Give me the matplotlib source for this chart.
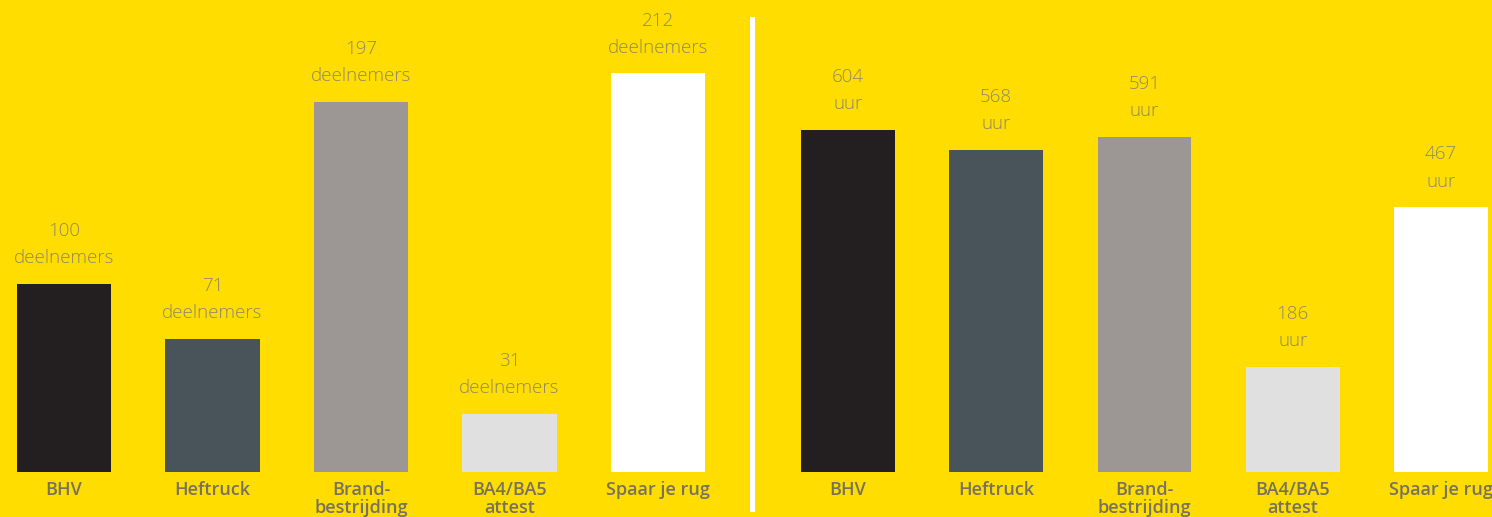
import matplotlib.pyplot as plt
from matplotlib.patches import Rectangle

categories = ["BHV", "Heftruck", "Brand-\nbestrijding", "BA4/BA5\nattest", "Spaar je rug"]
participants = [100, 71, 197, 31, 212]
hours = [604, 568, 591, 186, 467]
bar_colors = ["#231f20", "#48535a", "#9c9794", "#e0e0e0", "#ffffff"]

BG = "#ffdd00"
VALUE_COLOR = "#8f8866"
LABEL_COLOR = "#77725f"
FONT = ["Open Sans", "DejaVu Sans"]

W, H = 1492, 517
fig = plt.figure(figsize=(W / 100, H / 100), dpi=100)
fig.patch.set_facecolor(BG)

bottom = 1 - 472 / H
height = 472 / H


def panel(left_px, right_px, xlim, ylim_top, values, unit):
    ax = fig.add_axes([left_px / W, bottom, (right_px - left_px) / W, height])
    ax.set_facecolor("none")
    xs = range(len(values))
    ax.bar(xs, values, width=0.634, color=bar_colors)
    ax.set_xlim(*xlim)
    ax.set_ylim(0, ylim_top)
    ax.axis("off")
    for x, v, cat in zip(xs, values, categories):
        ax.annotate(str(v), (x, v), xytext=(0, 38), textcoords="offset points",
                    ha="center", va="center", fontsize=13.5, color=VALUE_COLOR,
                    family=FONT, fontweight="light")
        ax.annotate(unit, (x, v), xytext=(0, 18.5), textcoords="offset points",
                    ha="center", va="center", fontsize=13.5, color=VALUE_COLOR,
                    family=FONT, fontweight="light")
        ax.annotate(cat, (x, 0), xytext=(0, -6.5), textcoords="offset points",
                    ha="center", va="top", fontsize=13, color=LABEL_COLOR,
                    family=FONT, fontweight="semibold", linespacing=1.02,
                    annotation_clip=False)
    return ax


panel(0, 745, (-64 / 148.5, (745 - 64) / 148.5), 472 / 1.88, participants, "deelnemers")
panel(757, 1492, ((757 - 848) / 148.25, (1492 - 848) / 148.25), 472 / 0.567, hours, "uur")

# divider between the two panels
fig.add_artist(Rectangle((750 / W, 1 - 512 / H), 5 / W, 495 / H,
                         transform=fig.transFigure, color="white", lw=0))

fig.savefig("out.png", dpi=100, facecolor=BG)
